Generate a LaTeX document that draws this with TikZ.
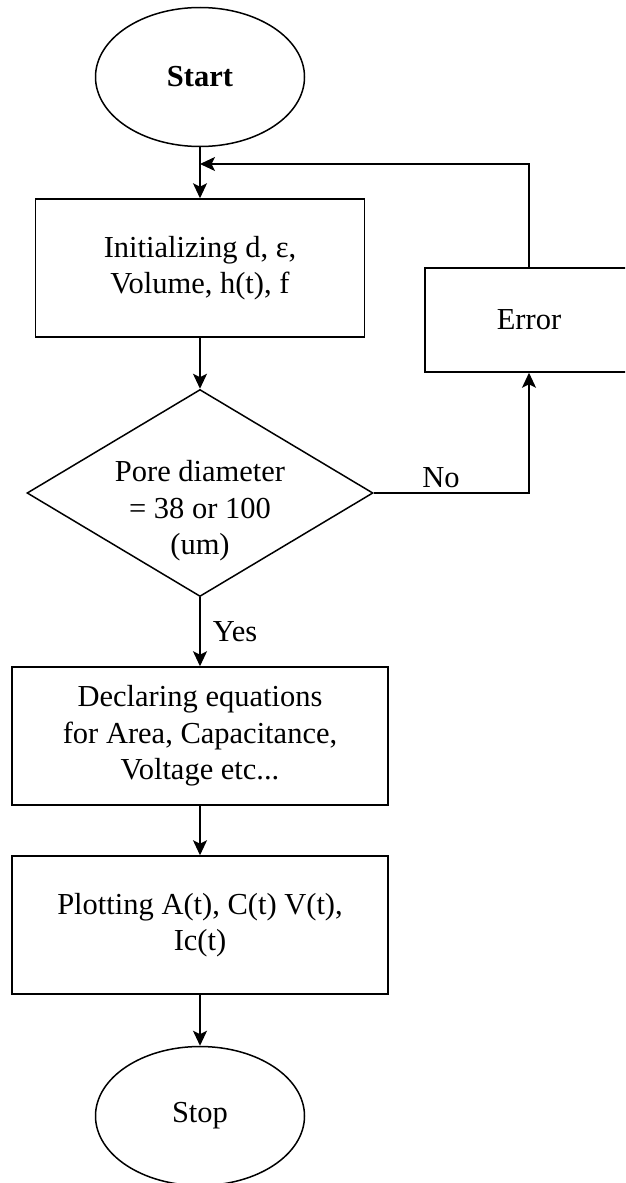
\documentclass[tikz,border=0pt]{standalone}
\usepackage{fontspec}
\setmainfont{Liberation Serif}
\usetikzlibrary{shapes.geometric,arrows.meta}
\newcommand{\lbl}{\fontsize{30.5}{36.5}\selectfont}
\begin{document}
\begin{tikzpicture}[x=1pt,y=-1pt,
  every node/.style={font=\lbl, align=center, inner sep=0pt},
  line/.style={line width=1.5pt, draw=black},
  arr/.style={line, -{Stealth[length=15pt,width=14pt,inset=3.5pt]}},
  term/.style={ellipse, draw, line width=1.5pt, minimum width=209pt, minimum height=139pt},
  procbox/.style={rectangle, draw, line width=1.5pt},
  widebox/.style={procbox, minimum width=376pt, minimum height=138pt},
  decision/.style={diamond, draw, line width=1.5pt, minimum width=346pt, minimum height=207pt}]
\useasboundingbox (0,0) rectangle (625,1183);
\clip (0,0) rectangle (625,1183);

\node[term, font=\lbl\bfseries] (start) at (200,77) {Start};
\node[procbox, minimum width=329pt, minimum height=138pt] (init) at (200,268) {Initializing d, ε,\\Volume, h(t), f};
\node[procbox, minimum width=208pt, minimum height=104pt] (err) at (529,320) {Error};
\node[decision] (dec) at (200,493) {};
\node (dectext) at (200,511) {Pore diameter\\= 38 or 100\\(um)};
\node[widebox] (decl) at (200,736) {Declaring equations\\for Area, Capacitance,\\Voltage etc...};
\node[widebox] (plot) at (200,925) {Plotting A(t), C(t) V(t),\\Ic(t)};
\node[term] (stop) at (200,1116) {Stop};
\coordinate (join) at (200,164);
\node (no) at (441,478) {No};
\node (yes) at (235,632) {Yes};

\draw[arr] (start.south) -- (init.north);
\draw[arr] (err.north) |- (join);
\draw[arr] (init.south) -- (dec.north);
\draw[arr] (dec.east) -| (err.south);
\draw[arr] (dec.south) -- (decl.north);
\draw[arr] (decl.south) -- (plot.north);
\draw[arr] (plot.south) -- (stop.north);
\end{tikzpicture}
\end{document}
